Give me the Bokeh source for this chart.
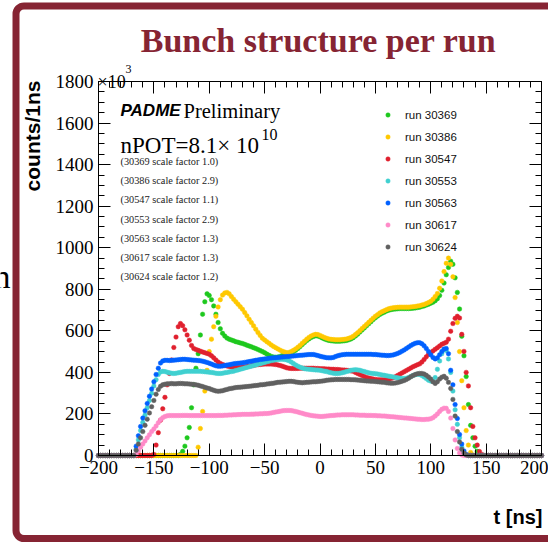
import math
from bokeh.plotting import figure
from bokeh.models import (Label, Legend, LegendItem, LinearAxis, SingleIntervalTicker,
                          CustomJSTickFormatter, BoxAnnotation, Range1d)
from bokeh.embed import file_html
from bokeh.resources import INLINE

# ---------------- data ----------------
# 2 ns grid from -200 to 200 ns; counts in units of 10^3
time_ns = list(range(-200, 201, 2))
zeros_before = [0] * 16   # -200 .. -170
zeros_after = [0] * 27    # 148 .. 200

runs = ["30369", "30386", "30547", "30553", "30563", "30617", "30624"]
scale_factors = ["1.0", "2.9", "1.1", "2.9", "1.3", "1.3", "1.2"]
colors = ["#1ec81e", "#ffc800", "#e0202e", "#40d0d0", "#0060ff", "#ff8ac8", "#606060"]

counts_30369 = zeros_before + [
    0, 0, 0, 0, 0, 0, 0, 0, 0, 0,
    0, 0, 0, 0, 0, 0, 0, 0, 0, 0,
    0, 5, 20, 45, 85, 135, 230, 340, 420, 490,
    580, 680, 740, 778, 770, 750, 720, 680, 640, 610,
    588, 575, 565, 560, 556, 552, 548, 545, 542, 539,
    535, 531, 527, 523, 519, 515, 510, 505, 500, 495,
    488, 482, 477, 474, 473, 474, 477, 481, 485, 490,
    492, 495, 500, 507, 515, 524, 534, 544, 553, 561,
    568, 573, 576, 575, 571, 566, 561, 557, 554, 552,
    551, 550, 550, 550, 551, 552, 554, 557, 561, 567,
    575, 584, 594, 604, 614, 624, 634, 644, 654, 663,
    671, 679, 685, 690, 695, 699, 702, 704, 705, 706,
    707, 707, 707, 707, 707, 708, 709, 710, 712, 714,
    717, 720, 724, 728, 733, 738, 745, 755, 770, 795,
    830, 870, 905, 935, 920, 855, 785, 705, 574, 480,
    380, 245, 145, 85, 45, 20, 6, 0] + zeros_after

counts_30386 = zeros_before + [
    0, 0, 0, 0, 0, 0, 0, 0, 0, 0,
    0, 0, 0, 0, 0, 0, 0, 0, 0, 0,
    0, 0, 0, 0, 0, 0, 0, 0, 0, 40,
    130, 212, 310, 410, 500, 560, 620, 670, 715, 750,
    772, 782, 785, 778, 765, 752, 740, 728, 716, 704,
    688, 672, 656, 640, 624, 608, 592, 578, 564, 556,
    548, 540, 532, 525, 519, 513, 507, 502, 498, 495,
    496, 500, 506, 513, 521, 530, 540, 550, 560, 568,
    575, 580, 583, 582, 578, 573, 568, 564, 561, 559,
    558, 557, 557, 557, 558, 559, 561, 564, 568, 574,
    582, 591, 601, 611, 621, 631, 641, 651, 661, 670,
    678, 686, 692, 697, 702, 706, 709, 711, 712, 713,
    714, 714, 714, 714, 714, 715, 716, 717, 719, 721,
    724, 727, 731, 736, 742, 752, 765, 780, 805, 840,
    885, 925, 950, 920, 860, 760, 640, 500, 360, 230,
    120, 50, 15, 3, 0, 0, 0, 0] + zeros_after

counts_30547 = zeros_before + [
    0, 0, 0, 0, 0, 0, 0, 0, 0, 5,
    50, 110, 170, 225, 280, 340, 395, 460, 520, 570,
    620, 635, 625, 605, 580, 555, 530, 515, 510, 506,
    502, 498, 495, 491, 487, 480, 470, 460, 450, 443,
    438, 434, 431, 428, 426, 425, 424, 424, 424, 425,
    426, 428, 430, 432, 434, 436, 437, 438, 439, 440,
    440, 440, 440, 439, 438, 436, 433, 430, 426, 422,
    420, 419, 419, 419, 419, 420, 420, 420, 420, 420,
    420, 420, 419, 419, 418, 418, 417, 416, 416, 415,
    415, 414, 414, 413, 412, 411, 410, 409, 407, 405,
    400, 395, 390, 385, 380, 376, 373, 370, 368, 366,
    365, 364, 364, 364, 365, 367, 370, 374, 379, 385,
    391, 397, 403, 409, 415, 421, 427, 432, 437, 441,
    450, 462, 475, 487, 495, 503, 511, 519, 527, 535,
    540, 545, 560, 598, 635, 660, 670, 662, 583, 501,
    400, 335, 230, 140, 85, 50, 19, 5] + zeros_after

counts_30553 = zeros_before + [
    0, 30, 75, 120, 160, 195, 230, 265, 300, 335,
    365, 390, 402, 405, 404, 401, 398, 396, 395, 396,
    398, 400, 402, 404, 405, 405, 405, 405, 405, 405,
    405, 404, 403, 402, 401, 400, 398, 396, 395, 395,
    396, 398, 400, 402, 404, 406, 409, 412, 415, 418,
    421, 424, 427, 430, 433, 436, 439, 442, 445, 448,
    451, 454, 457, 459, 461, 462, 463, 463, 462, 460,
    456, 450, 443, 436, 430, 425, 421, 418, 416, 415,
    414, 413, 412, 411, 410, 408, 406, 404, 401, 398,
    396, 395, 395, 396, 398, 401, 404, 407, 410, 412,
    413, 412, 410, 407, 404, 401, 398, 396, 395, 394,
    392, 390, 388, 386, 384, 382, 380, 378, 376, 374,
    372, 371, 371, 372, 375, 380, 385, 389, 391, 390,
    385, 378, 370, 362, 358, 357, 375, 415, 455, 490,
    510, 505, 465, 400, 310, 220, 150, 85, 40, 12,
    2, 0, 0, 0, 0, 0, 0, 0] + zeros_after

counts_30563 = zeros_before + [
    0, 45, 95, 140, 180, 215, 250, 285, 320, 355,
    390, 420, 445, 455, 458, 458, 457, 458, 459, 460,
    461, 462, 463, 463, 462, 461, 460, 459, 458, 457,
    456, 454, 451, 448, 444, 440, 436, 432, 430, 430,
    431, 433, 435, 437, 439, 441, 443, 444, 445, 446,
    448, 450, 452, 454, 456, 458, 460, 462, 463, 465,
    466, 468, 469, 470, 471, 472, 473, 474, 475, 476,
    477, 478, 479, 480, 481, 482, 483, 484, 485, 486,
    486, 486, 484, 481, 478, 475, 473, 471, 470, 470,
    472, 476, 480, 483, 485, 486, 487, 487, 487, 487,
    487, 487, 487, 487, 487, 487, 487, 487, 486, 486,
    485, 484, 483, 482, 481, 481, 482, 484, 487, 491,
    496, 502, 508, 515, 522, 529, 535, 540, 543, 543,
    538, 528, 515, 500, 485, 472, 465, 470, 485, 500,
    512, 515, 490, 410, 340, 245, 178, 101, 55, 22,
    5, 0, 0, 0, 0, 0, 0, 0] + zeros_after

counts_30617 = zeros_before + [
    0, 5, 22, 40, 55, 70, 85, 100, 115, 128,
    142, 158, 172, 182, 188, 191, 192, 192, 192, 192,
    192, 192, 193, 193, 193, 192, 192, 192, 192, 192,
    192, 192, 192, 192, 192, 192, 192, 192, 193, 193,
    193, 194, 194, 195, 195, 196, 196, 197, 197, 198,
    198, 198, 198, 199, 199, 200, 200, 201, 201, 202,
    202, 203, 205, 207, 209, 211, 213, 215, 216, 217,
    217, 216, 214, 212, 209, 206, 203, 200, 197, 195,
    193, 191, 190, 189, 188, 188, 189, 190, 191, 192,
    193, 194, 195, 195, 196, 196, 196, 196, 196, 196,
    195, 195, 194, 194, 194, 193, 193, 193, 192, 192,
    191, 191, 190, 190, 189, 188, 187, 186, 185, 184,
    183, 182, 181, 180, 179, 178, 177, 176, 175, 174,
    173, 173, 174, 175, 177, 182, 190, 200, 212, 222,
    228, 227, 212, 180, 130, 75, 34, 12, 3, 0,
    0, 0, 0, 0, 0, 0, 0, 0] + zeros_after

counts_30624 = zeros_before + [
    0, 25, 55, 85, 115, 145, 175, 205, 235, 265,
    295, 318, 333, 340, 343, 345, 345, 346, 345, 345,
    346, 347, 346, 345, 345, 344, 343, 342, 340, 338,
    335, 332, 328, 325, 322, 318, 314, 311, 309, 310,
    312, 315, 318, 321, 323, 325, 327, 328, 329, 330,
    331, 332, 333, 334, 336, 337, 338, 340, 341, 342,
    344, 345, 347, 348, 350, 352, 353, 354, 355, 356,
    357, 357, 356, 354, 352, 351, 350, 351, 352, 353,
    354, 355, 355, 356, 357, 358, 360, 362, 363, 364,
    365, 366, 366, 366, 366, 366, 366, 366, 365, 365,
    364, 363, 362, 361, 360, 359, 358, 357, 357, 356,
    355, 354, 353, 352, 350, 349, 348, 348, 349, 351,
    354, 357, 361, 366, 372, 379, 385, 390, 393, 395,
    395, 392, 386, 378, 368, 355, 347, 355, 368, 377,
    381, 372, 352, 323, 270, 190, 115, 65, 30, 12,
    3, 0, 0, 0, 0, 0, 0, 0] + zeros_after

series = [counts_30369, counts_30386, counts_30547, counts_30553,
          counts_30563, counts_30617, counts_30624]

x_ticks = [-200, -150, -100, -50, 0, 50, 100, 150, 200]
y_ticks = [0, 200, 400, 600, 800, 1000, 1200, 1400, 1600, 1800]
x_lim = (-200, 200)
y_lim = (0, 1800)

# ---------------- layout (page pixels) ----------------
W, H = 548, 542
FL, FR, FT, FB = 98, 541, 81, 455   # where the axes box sits on the page
kx = (x_lim[1] - x_lim[0]) / float(FR - FL)
ky = (y_lim[1] - y_lim[0]) / float(FB - FT)

# the Bokeh frame covers the whole canvas; the axes are fixed at the box edges
p = figure(width=W, height=H, output_backend="svg", toolbar_location=None,
           x_range=Range1d(x_lim[0] - FL * kx, x_lim[1] + (W - FR) * kx),
           y_range=Range1d(y_lim[0] - (H - FB) * ky, y_lim[1] + FT * ky),
           x_axis_location=None, y_axis_location=None,
           min_border=0, background_fill_color="white", border_fill_color="white")
p.outline_line_color = None
p.xgrid.visible = False
p.ygrid.visible = False
p.title.visible = False

xt = SingleIntervalTicker(interval=50, num_minor_ticks=5)
yt = SingleIntervalTicker(interval=200, num_minor_ticks=4)
blank = CustomJSTickFormatter(code="return ''")


def make_axis(loc, ticker, bounds, labels):
    ax = LinearAxis(fixed_location=loc, ticker=ticker, bounds=bounds)
    ax.axis_line_color = "black"
    ax.major_tick_line_color = "black"
    ax.minor_tick_line_color = "black"
    ax.major_tick_in = 12
    ax.major_tick_out = 0
    ax.minor_tick_in = 6
    ax.minor_tick_out = 0
    ax.major_label_text_font = "Liberation Serif"
    ax.major_label_text_font_size = "19px"
    ax.major_label_text_color = "black"
    if not labels:
        ax.formatter = blank
        ax.major_label_text_font_size = "0px"
    return ax


x_bottom = make_axis(y_lim[0], xt, x_lim, True)
x_bottom.major_label_standoff = 5
x_bottom.major_label_overrides = {v: (("\u2212" + str(-v)) if v < 0 else str(v)) for v in x_ticks}
y_left = make_axis(x_lim[0], yt, y_lim, True)
y_left.major_label_standoff = 5
y_left.major_label_overrides = {v: str(v) for v in y_ticks}
p.add_layout(x_bottom, "below")
p.add_layout(y_left, "left")
p.add_layout(make_axis(y_lim[1], xt, x_lim, False), "above")
p.add_layout(make_axis(x_lim[1], yt, y_lim, False), "right")

# ---------------- data markers ----------------
renderers = []
for vals, c in zip(series, colors):
    r = p.scatter(x=time_ns, y=vals, marker="circle", size=4.5,
                  fill_color=c, line_color=c, line_width=0.5)
    renderers.append(r)

legend = Legend(items=[LegendItem(label="run " + r, renderers=[rr]) for r, rr in zip(runs, renderers)],
                location=(382, H - 257), padding=0, margin=0, spacing=1,
                glyph_width=11, glyph_height=21, label_height=21, label_standoff=12,
                label_text_font="Liberation Sans", label_text_font_size="11.5px",
                label_text_color="#111111", border_line_color=None,
                background_fill_alpha=0)
p.add_layout(legend)


# ---------------- texts (screen units = page pixels, y upward) ----------------
def lab(text, px, py, size, font="Liberation Serif", style="normal", color="black",
        align="left", baseline="alphabetic", angle=0.0):
    p.add_layout(Label(x=px, y=H - py, x_units="screen", y_units="screen",
                       text=text, text_font=font,
                       text_font_style=style, text_font_size=size, text_color=color,
                       text_align=align, text_baseline=baseline, angle=angle))


MAROON = "#862433"
p.add_layout(BoxAnnotation(left=15.5, right=620, top=H - 5.5, bottom=H - 538,
                           left_units="screen", right_units="screen",
                           top_units="screen", bottom_units="screen",
                           fill_color=None, line_color=MAROON, line_alpha=1.0,
                           line_width=7, border_radius=8))

lab("Bunch structure per run", 318, 40, "34px", style="bold", color=MAROON, align="center")
lab("n", 10, 276, "34px", align="right")
lab("counts/1ns", 31.5, 135.5, "21px", font="Liberation Sans", style="bold",
    align="center", baseline="middle", angle=math.pi / 2)
lab("t [ns]", 542, 516, "20px", font="Liberation Sans", style="bold",
    align="right", baseline="middle")
lab("\u00d710", 97, 81, "18px")
lab("3", 125, 68, "12px")
lab("PADME", 120, 110, "17px", font="Liberation Sans", style="bold italic")
lab("Preliminary", 183, 110, "20.5px")
lab("nPOT=8.1\u00d7 10", 120, 145, "23px")
lab("10", 261, 134, "16px")
for i, (r, s) in enumerate(zip(runs, scale_factors)):
    lab("(%s scale factor %s)" % (r, s), 120, 161 + 19.2 * i, "10.3px",
        color="#222222", baseline="middle")

open("out.html", "w").write(file_html(p, INLINE))
